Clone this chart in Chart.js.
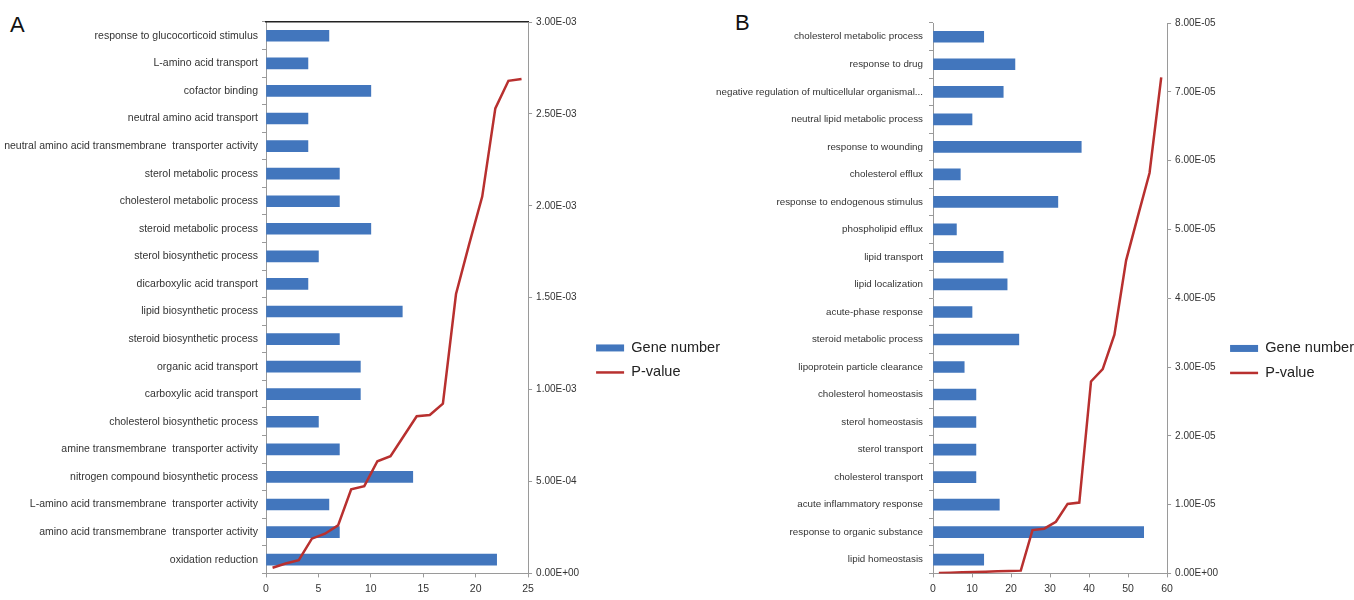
<!DOCTYPE html>
<html>
<head>
<meta charset="utf-8">
<script src="https://cdn.jsdelivr.net/npm/chart.js@4.4.1/dist/chart.umd.min.js"></script>
<style>
  body { margin: 0; background: #fff; width: 1354px; height: 600px; position: relative; overflow: hidden; font-family: Arial, "Liberation Sans", sans-serif; }
  canvas { position: absolute; top: 0; }
  #chartA { left: 0; }
  #chartB { left: 712px; }
  .panel { position: absolute; font-size: 22px; color: #111; }
</style>
</head>
<body>
<div class="panel" style="left:10px; top:12px;">A</div>
<div class="panel" style="left:735px; top:10px;">B</div>
<canvas id="chartA" width="730" height="600"></canvas>
<canvas id="chartB" width="652" height="600"></canvas>
<script>
// Panel A - GO terms, top to bottom
var termsA = [
    "response to glucocorticoid stimulus",
    "L-amino acid transport",
    "cofactor binding",
    "neutral amino acid transport",
    "neutral amino acid transmembrane  transporter activity",
    "sterol metabolic process",
    "cholesterol metabolic process",
    "steroid metabolic process",
    "sterol biosynthetic process",
    "dicarboxylic acid transport",
    "lipid biosynthetic process",
    "steroid biosynthetic process",
    "organic acid transport",
    "carboxylic acid transport",
    "cholesterol biosynthetic process",
    "amine transmembrane  transporter activity",
    "nitrogen compound biosynthetic process",
    "L-amino acid transmembrane  transporter activity",
    "amino acid transmembrane  transporter activity",
    "oxidation reduction"
];
var genesA = [6, 4, 10, 4, 4, 7, 7, 10, 5, 4, 13, 7, 9, 9, 5, 7, 14, 6, 7, 22];
// p-values, left to right along the line
var pvalA = [3.1e-5, 5.4e-5, 7.2e-5, 1.89e-4, 2.16e-4, 2.61e-4, 4.57e-4, 4.75e-4, 6.1e-4, 6.38e-4,
    7.46e-4, 8.55e-4, 8.62e-4, 9.24e-4, 1.52e-3, 1.79e-3, 2.05e-3, 2.53e-3, 2.68e-3, 2.69e-3];

// Panel B
var termsB = [
    "cholesterol metabolic process",
    "response to drug",
    "negative regulation of multicellular organismal...",
    "neutral lipid metabolic process",
    "response to wounding",
    "cholesterol efflux",
    "response to endogenous stimulus",
    "phospholipid efflux",
    "lipid transport",
    "lipid localization",
    "acute-phase response",
    "steroid metabolic process",
    "lipoprotein particle clearance",
    "cholesterol homeostasis",
    "sterol homeostasis",
    "sterol transport",
    "cholesterol transport",
    "acute inflammatory response",
    "response to organic substance",
    "lipid homeostasis"
];
var genesB = [13, 21, 18, 10, 38, 7, 32, 6, 18, 19, 10, 22, 8, 11, 11, 11, 11, 17, 54, 13];
var pvalB = [5e-8, 1e-7, 1.5e-7, 2e-7, 2.5e-7, 3e-7, 3.5e-7, 4e-7, 6.3e-6, 6.5e-6,
    7.5e-6, 1.01e-5, 1.03e-5, 2.79e-5, 2.97e-5, 3.47e-5, 4.55e-5, 5.19e-5, 5.82e-5, 7.21e-5];

var BLUE = "#4276bd";
var RED = "#b8302f";
var AXIS = "#9a9a9a";
var TEXT = "#333333";
var SANS = "'Liberation Sans', Arial, sans-serif";

// 3.00E-03 style labels
function sci(v) {
    if (v === 0) return "0.00E+00";
    let parts = v.toExponential(2).split("e");
    let exp = parseInt(parts[1], 10);
    let sign = exp < 0 ? "-" : "+";
    return parts[0] + "E" + sign + String(Math.abs(exp)).padStart(2, "0");
}

function makeChart(id, terms, genes, pvals, s) {
    let points = pvals.map((p, i) => ({ x: i, y: p }));
    let config = {
        type: "bar",
        data: {
            labels: terms,
            datasets: [{
                label: "Gene number",
                data: genes,
                indexAxis: "y",
                xAxisID: "x",
                yAxisID: "y",
                backgroundColor: BLUE,
                borderWidth: 0,
                barThickness: 11,
                grouped: false,
                pointStyle: "rect",
                order: 2
            }, {
                type: "line",
                label: "P-value",
                data: points,
                xAxisID: "x2",
                yAxisID: "y2",
                borderColor: RED,
                backgroundColor: RED,
                borderWidth: 2.5,
                pointRadius: 0,
                pointStyle: "line",
                tension: 0,
                order: 1
            }]
        },
        options: {
            responsive: false,
            animation: false,
            layout: { padding: { top: s.top, bottom: 0, left: 0, right: 0 } },
            plugins: {
                tooltip: { enabled: false },
                legend: {
                    position: "right",
                    maxWidth: 220,
                    title: { display: true, text: "", font: { size: 12 }, padding: { top: 84, bottom: 0 } },
                    labels: {
                        usePointStyle: true,
                        pointStyleWidth: 28,
                        boxHeight: 7,
                        padding: 10,
                        color: "#222",
                        font: { family: SANS, size: 14.5 },
                        sort: (a, b) => a.datasetIndex - b.datasetIndex
                    }
                }
            },
            scales: {
                x: {
                    type: "linear",
                    position: "bottom",
                    offset: false,
                    min: 0,
                    max: s.xMax,
                    ticks: { stepSize: s.xStep, color: TEXT, font: { family: SANS, size: 10.5 }, padding: 5 },
                    grid: { offset: false, drawOnChartArea: false, tickLength: 4, color: AXIS },
                    border: { color: AXIS }
                },
                y: {
                    type: "category",
                    position: "left",
                    offset: true,
                    ticks: { autoSkip: false, color: TEXT, font: { family: SANS, size: s.labelSize }, padding: s.labelPad },
                    grid: { offset: true, drawOnChartArea: false, tickLength: 4, color: AXIS },
                    border: { color: AXIS },
                    afterFit: function (scale) { scale.width = s.leftW; }
                },
                x2: {
                    type: "linear",
                    position: "top",
                    display: s.topLine,
                    offset: false,
                    min: -0.5,
                    max: pvals.length - 0.5,
                    ticks: { display: false },
                    grid: { display: false, drawTicks: false },
                    border: { color: "#222", width: 1.5 }
                },
                y2: {
                    type: "linear",
                    position: "right",
                    min: 0,
                    max: s.pMax,
                    ticks: { stepSize: s.pStep, color: TEXT, font: { family: SANS, size: 10 }, padding: 4, callback: v => sci(v) },
                    grid: { drawOnChartArea: false, tickLength: 4, color: AXIS },
                    border: { color: AXIS },
                    afterFit: function (scale) { scale.width = s.rightW; }
                }
            }
        }
    };
    return new Chart(document.getElementById(id), config);
}

var chartA = makeChart("chartA", termsA, genesA, pvalA,
    { xMax: 25, xStep: 5, pMax: 3e-3, pStep: 5e-4, leftW: 266, rightW: 58, top: 22, topLine: true, labelSize: 10.5, labelPad: 4 });
var chartB = makeChart("chartB", termsB, genesB, pvalB,
    { xMax: 60, xStep: 10, pMax: 8e-5, pStep: 1e-5, leftW: 221, rightW: 53, top: 23, topLine: false, labelSize: 9.8, labelPad: 6 });
</script>
</body>
</html>
